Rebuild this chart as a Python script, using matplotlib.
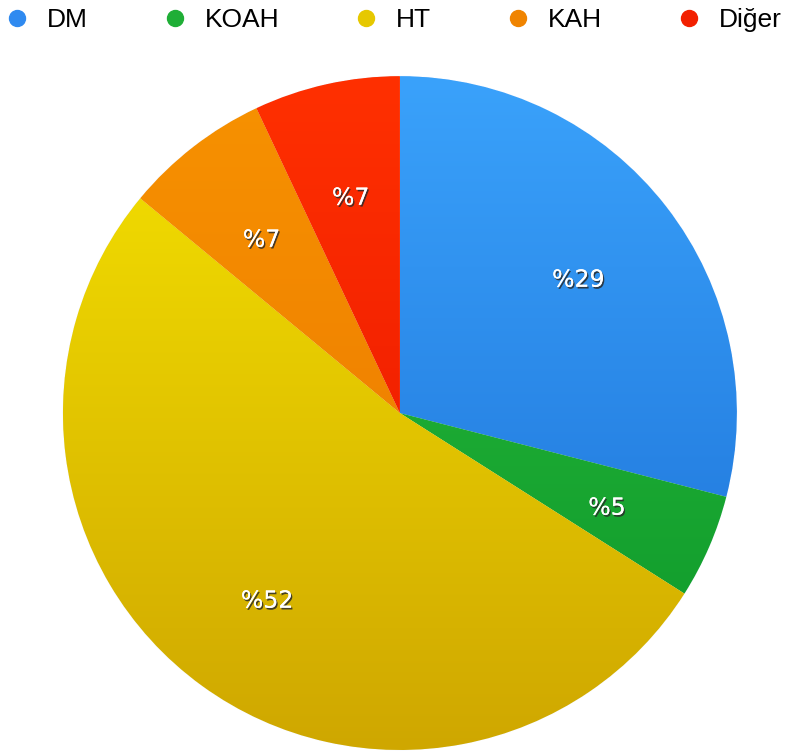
import numpy as np
import matplotlib
matplotlib.use("Agg")
import matplotlib.pyplot as plt
import matplotlib.patheffects as pe
import matplotlib.transforms as mtransforms
from matplotlib.colors import to_rgb
from matplotlib.lines import Line2D

# Disease distribution (percent)
categories = ["DM", "KOAH", "HT", "KAH", "Diğer"]
values = [29, 5, 52, 7, 7]
pct_labels = ["%29", "%5", "%52", "%7", "%7"]

# light (top) / dark (bottom) shade for each slice
top_colors = ["#3aa2fb", "#2cbd3c", "#f6e400", "#f79200", "#ff3000"]
bottom_colors = ["#1a6dd4", "#0c972a", "#cfa700", "#ea7400", "#e61200"]
legend_colors = ["#2f8af0", "#1fae36", "#e6c800", "#f08400", "#f22000"]

plt.rcParams["font.family"] = ["Liberation Sans", "DejaVu Sans"]

fig = plt.figure(figsize=(7.9, 7.52), dpi=100)
ax = fig.add_axes([0.0797, 0.0027, 0.853, 0.896])

mid_colors = [tuple((np.array(to_rgb(t)) + np.array(to_rgb(b))) / 2)
              for t, b in zip(top_colors, bottom_colors)]
wedges, texts = ax.pie(values, colors=mid_colors, startangle=90,
                       counterclock=False, labels=pct_labels,
                       labeldistance=0.67, radius=1.0,
                       wedgeprops=dict(linewidth=0.6, edgecolor="#f4f8ff"))

# vertical shading inside each slice
yy = np.linspace(1, -1, 256)[:, None, None]
for w, t, b in zip(wedges, top_colors, bottom_colors):
    t = np.array(to_rgb(t))
    b = np.array(to_rgb(b))
    frac = (1 - yy) / 2
    img = t * (1 - frac) + b * frac
    img = np.repeat(img, 2, axis=1)
    im = ax.imshow(img, extent=[-1, 1, -1, 1], origin="upper",
                   aspect="auto", interpolation="bilinear", zorder=w.get_zorder() + 0.1)
    im.set_clip_path(w)

shift = mtransforms.ScaledTranslation(0, -5 / 100, fig.dpi_scale_trans)
for tx in texts:
    tx.set_color("white")
    tx.set_fontsize(17)
    tx.set_family(["DejaVu Sans"])
    tx.set_ha("center")
    tx.set_va("center")
    tx.set_zorder(10)
    tx.set_transform(tx.get_transform() + shift)
    tx.set_path_effects([pe.withSimplePatchShadow(offset=(1, -1.3), shadow_rgbFace="#2a2a2a", alpha=0.85),
                         pe.Normal()])

ax.set_xlim(-1, 1)
ax.set_ylim(-1, 1)
ax.set_aspect("auto")
ax.axis("off")

handles = [Line2D([0], [0], marker="o", linestyle="none", markersize=11.5,
                  markerfacecolor=c, markeredgecolor=c) for c in legend_colors]
fig.legend(handles, categories, loc="center left",
           bbox_to_anchor=(9 / 790, 1 - 20 / 752), ncol=5, frameon=False,
           fontsize=19, handlelength=0.6, handletextpad=0.83,
           columnspacing=3.0, borderpad=0, borderaxespad=0)

fig.savefig("out.png", dpi=100, facecolor="white")
